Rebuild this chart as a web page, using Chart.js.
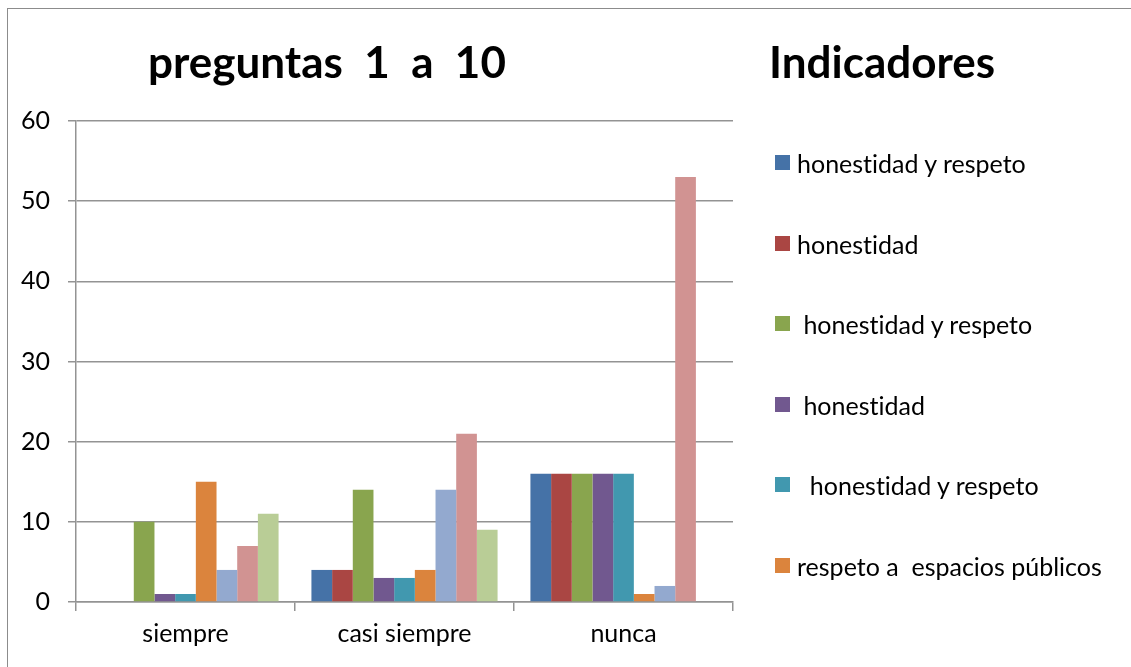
<!DOCTYPE html>
<html>
<head>
<meta charset="utf-8">
<script src="https://cdn.jsdelivr.net/npm/chart.js@4/dist/chart.umd.min.js"></script>
<style>
  html, body { margin: 0; padding: 0; background: #fff; }
  #wrap { position: relative; width: 1131px; height: 667px; overflow: hidden; font-family: "Lato", sans-serif; font-variant-ligatures: none; }
  #frame { position: absolute; left: 7px; top: 8px; width: 1200px; height: 800px; border: 1.5px solid #8c8c8c; }
  canvas { position: absolute; left: 0; top: 0; }
  .ttl { position: absolute; font-weight: bold; font-size: 44px; color: #000; white-space: pre; line-height: 1; }
  #legend { position: absolute; left: 775px; top: 0; }
  .item { position: absolute; left: 0; white-space: pre; font-size: 25px; line-height: 26px; height: 26px; }
  .box { position: absolute; left: 0; top: 5px; width: 15px; height: 15px; }
  .lbl { position: absolute; left: 22px; top: 0; }
</style>
</head>
<body>
<div id="wrap">
  <div id="frame"></div>
  <canvas id="c" width="1131" height="667"></canvas>
  <div class="ttl" style="left:148px; top:39px;">preguntas  1  a  10</div>
  <div class="ttl" style="left:769px; top:39px;">Indicadores</div>
  <div id="legend"></div>
</div>
<script>
// categorías y series
const categorias = ['siempre', 'casi siempre', 'nunca'];
const nombres = [
  'honestidad y respeto',
  'honestidad',
  ' honestidad y respeto',
  ' honestidad',
  '  honestidad y respeto',
  'respeto a  espacios públicos',
  'serie 7',
  'serie 8',
  'serie 9'
];
const colores = ['#4572A7', '#AA4643', '#89A54E', '#71588F', '#4198AF', '#DB843D', '#93A9CF', '#D19392', '#B9CD96'];
const s1 = [0, 4, 16];
const s2 = [0, 4, 16];
const s3 = [10, 14, 16];
const s4 = [1, 3, 16];
const s5 = [1, 3, 16];
const s6 = [15, 4, 1];
const s7 = [4, 14, 2];
const s8 = [7, 21, 53];
const s9 = [11, 9, 0];
const series = [s1, s2, s3, s4, s5, s6, s7, s8, s9];
const yTicks = [0, 10, 20, 30, 40, 50, 60];
const legendVisibles = 6;

const GRIS = '#939393';
const FUENTE = { family: 'Lato', size: 25 };

new Chart(document.getElementById('c'), {
  type: 'bar',
  data: {
    labels: categorias,
    datasets: series.map((d, i) => ({
      label: nombres[i],
      data: d,
      backgroundColor: colores[i],
      borderWidth: 0,
      barPercentage: 1,
      categoryPercentage: 0.85,
    }))
  },
  options: {
    responsive: false,
    animation: false,
    devicePixelRatio: 1,
    layout: { padding: { left: 0, top: 121, right: 398, bottom: 0 } },
    plugins: { legend: { display: false }, tooltip: { enabled: false } },
    scales: {
      x: {
        afterFit: s => { s.height = 65; },
        grid: { offset: true, drawOnChartArea: false, color: GRIS, lineWidth: 1.5, tickLength: 9 },
        border: { color: GRIS, width: 1.5 },
        ticks: { color: '#000', font: FUENTE, padding: 8 },
      },
      y: {
        min: 0, max: 60,
        afterFit: s => { s.width = 76; },
        afterBuildTicks: s => { s.ticks = yTicks.map(v => ({ value: v })); },
        grid: { color: GRIS, lineWidth: 1.5, tickLength: 8 },
        border: { color: GRIS, width: 1.5 },
        ticks: { color: '#000', font: FUENTE, padding: 18 },
      }
    }
  }
});

// leyenda (solo las primeras 6 entradas caben en el cuadro)
const leg = document.getElementById('legend');
for (let i = 0; i < legendVisibles; i++) {
  const it = document.createElement('div');
  it.className = 'item';
  it.style.top = (150 + i * 80.5) + 'px';
  it.innerHTML = '<div class="box" style="background:' + colores[i] + '"></div><div class="lbl"></div>';
  it.querySelector('.lbl').textContent = nombres[i];
  leg.appendChild(it);
}
</script>
</body>
</html>
